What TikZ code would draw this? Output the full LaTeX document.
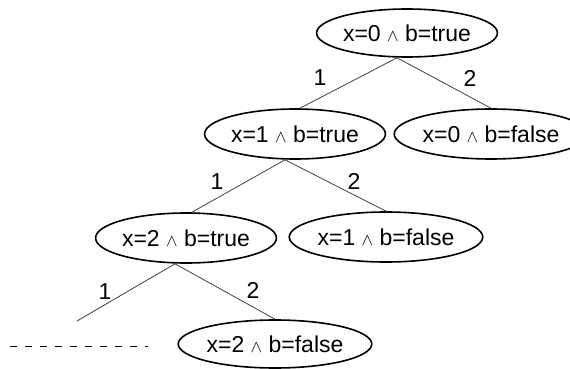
\documentclass[tikz,border=0pt]{standalone}
\usepackage{fontspec}
\setmainfont{Liberation Sans}
\usetikzlibrary{shapes.geometric}
\newcommand{\conj}{{\fontsize{18}{18}\selectfont$\wedge$}}
\tikzset{
  state/.style={draw, ellipse, line width=1.6pt, inner sep=0pt,
    minimum width=160pt, minimum height=50pt, font=\fontsize{23}{27}\selectfont},
  branch/.style={draw=black!75, line width=0.8pt},
  lbl/.style={inner sep=0pt, font=\fontsize{23}{27}\selectfont}
}
\begin{document}
\begin{tikzpicture}[x=1pt,y=1pt]
\useasboundingbox (0,0) rectangle (570,-369);

\node[state, minimum width=166pt, minimum height=48pt] (t0) at (407,-33) {x=0 \conj{} b=true};
\node[state] (t1) at (295,-134) {x=1 \conj{} b=true};
\node[state, minimum width=152pt] (t2) at (491,-134) {x=0 \conj{} b=false};
\node[state, minimum width=162pt] (t3) at (186,-238) {x=2 \conj{} b=true};
\node[state, minimum width=162pt] (t4) at (386,-237) {x=1 \conj{} b=false};
\node[state, minimum height=48pt] (t5) at (275,-344) {x=2 \conj{} b=false};

\coordinate (cut) at (77,-321);
\coordinate (d0) at (10,-346);
\coordinate (d1) at (148,-346);

\draw[branch] ([xshift=-10pt]t0.south) -- ([xshift=5pt]t1.north);
\draw[branch] ([xshift=-10pt]t0.south) -- (t2.north);
\draw[branch] ([xshift=-10pt]t1.south) -- ([xshift=6pt]t3.north);
\draw[branch] ([xshift=-10pt]t1.south) -- (t4.north);
\draw[branch] ([xshift=-11pt]t3.south) -- (cut);
\draw[branch] ([xshift=-11pt]t3.south) -- (t5.north);

\draw[line width=1pt, dash pattern=on 7pt off 8pt] (d0) -- (d1);

\node[lbl] (a01) at (320,-78) {1};
\node[lbl] (a02) at (470,-78) {2};
\node[lbl] (a13) at (217,-182) {1};
\node[lbl] (a14) at (354,-181) {2};
\node[lbl] (a3c) at (105,-292) {1};
\node[lbl] (a35) at (253,-290) {2};
\end{tikzpicture}
\end{document}
